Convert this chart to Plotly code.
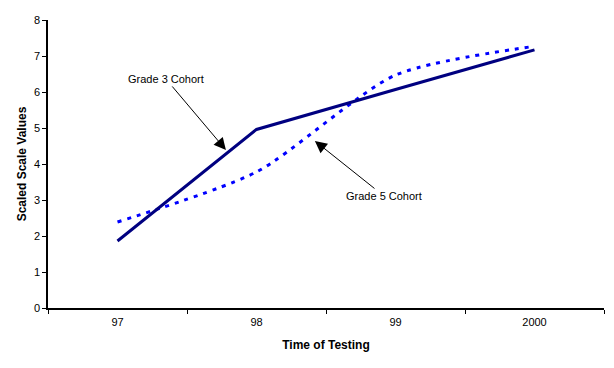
import plotly.graph_objects as go

years = ["97", "98", "99", "2000"]
grade3 = [1.86, 4.96, 6.07, 7.17]
grade5 = [2.39, 3.78, 6.47, 7.27]
y_ticks = [0, 1, 2, 3, 4, 5, 6, 7, 8]

FONT = "Liberation Sans, Arial, sans-serif"

fig = go.Figure()
fig.add_trace(go.Scatter(
    x=years, y=grade5, mode="lines", name="Grade 5 Cohort",
    line=dict(color="#0000FF", width=3, dash="4px,6px", shape="spline", smoothing=0.7),
))
fig.add_trace(go.Scatter(
    x=years, y=grade3, mode="lines", name="Grade 3 Cohort",
    line=dict(color="#000080", width=3),
))

fig.add_annotation(
    x=0.78, y=4.39, xref="x", yref="y", ax=-60, ay=-71,
    text="Grade 3 Cohort", showarrow=True, arrowhead=2, arrowsize=2.4,
    arrowwidth=1, arrowcolor="black", font=dict(family=FONT, size=11, color="black"),
)
fig.add_annotation(
    x=1.42, y=4.64, xref="x", yref="y", ax=69, ay=55,
    text="Grade 5 Cohort", showarrow=True, arrowhead=2, arrowsize=2.4,
    arrowwidth=1, arrowcolor="black", font=dict(family=FONT, size=11, color="black"),
)

fig.update_layout(
    width=614, height=368,
    margin=dict(l=48, r=10, t=20, b=60),
    paper_bgcolor="white", plot_bgcolor="white",
    showlegend=False,
    font=dict(family=FONT, size=11, color="black"),
    xaxis=dict(
        type="category", range=[-0.5, 3.5], showgrid=False, zeroline=False,
        automargin=False,
        showline=True, linecolor="black", linewidth=1.5,
        ticks="outside", tickson="boundaries", ticklen=4, tickcolor="black",
        ticklabelstandoff=3,
        title=dict(text="<b>Time of Testing</b>", font=dict(size=12), standoff=14),
    ),
    yaxis=dict(
        range=[0, 8], tickvals=y_ticks, showgrid=False, zeroline=False,
        automargin=False,
        showline=True, linecolor="black", linewidth=1.5,
        ticks="outside", ticklen=4, tickcolor="black",
        title=dict(text="<b>Scaled Scale Values</b>", font=dict(size=12), standoff=5),
    ),
)

fig.write_html("out.html", config={"displayModeBar": False},
               post_script="document.body.style.margin='0';")
